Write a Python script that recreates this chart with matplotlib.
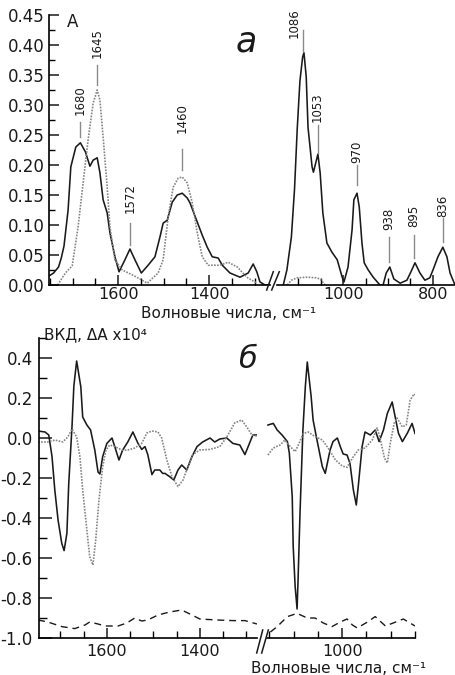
import numpy as np
import matplotlib
matplotlib.use("Agg")
import matplotlib.pyplot as plt
from matplotlib.lines import Line2D
from matplotlib.ticker import FixedLocator, MultipleLocator, FormatStrFormatter

plt.rcParams["font.family"] = ["DejaVu Sans"]

# ---- (а) ИК спектр, левый участок ----
ir_wn_l = [1752, 1742, 1731, 1725, 1719, 1710, 1704, 1693, 1683, 1672, 1662, 1655, 1646, 1640,
           1633, 1624, 1618, 1607, 1598, 1585, 1574, 1563, 1549, 1534, 1519, 1508, 1501, 1492,
           1481, 1470, 1459, 1448, 1442, 1426, 1415, 1404, 1393, 1380, 1371, 1354, 1332, 1314,
           1303, 1295, 1288, 1277, 1266]
ir_a_l = [0.015, 0.02, 0.03, 0.045, 0.065, 0.125, 0.197, 0.23, 0.237, 0.222, 0.198, 0.208, 0.212,
          0.187, 0.142, 0.12, 0.087, 0.047, 0.022, 0.042, 0.06, 0.042, 0.02, 0.033, 0.047, 0.08,
          0.103, 0.108, 0.138, 0.15, 0.153, 0.145, 0.137, 0.105, 0.083, 0.063, 0.047, 0.045,
          0.033, 0.02, 0.013, 0.02, 0.035, 0.022, 0.005, 0.0, 0.0]
ir2_wn_l = [1733, 1716, 1701, 1688, 1677, 1666, 1655, 1646, 1640, 1633, 1624, 1618, 1607, 1591,
            1569, 1547, 1536, 1512, 1501, 1490, 1479, 1468, 1459, 1448, 1437, 1426, 1415, 1402,
            1376, 1358, 1338, 1317, 1295]
ir2_a_l = [0.0, 0.02, 0.032, 0.097, 0.17, 0.242, 0.303, 0.325, 0.308, 0.247, 0.163, 0.097, 0.042,
           0.025, 0.017, 0.008, 0.003, 0.02, 0.042, 0.113, 0.163, 0.178, 0.18, 0.17, 0.137, 0.087,
           0.047, 0.033, 0.033, 0.038, 0.03, 0.013, 0.003]

# ---- (а) ИК спектр, правый участок ----
ir_wn_r = [1133, 1125, 1115, 1108, 1102, 1096, 1090, 1087, 1082, 1078, 1069, 1066, 1056, 1051,
           1045, 1036, 1025, 1013, 1002, 998, 989, 980, 976, 969, 964, 958, 953, 944, 933, 918,
           911, 904, 896, 887, 873, 858, 849, 840, 829, 818, 807, 800, 789, 778, 769, 762, 751]
ir_a_r = [0.0, 0.025, 0.08, 0.16, 0.26, 0.34, 0.38, 0.387, 0.347, 0.263, 0.197, 0.188, 0.218,
          0.187, 0.12, 0.07, 0.055, 0.042, 0.013, 0.005, 0.03, 0.092, 0.142, 0.153, 0.13, 0.07,
          0.037, 0.025, 0.013, 0.0, 0.0, 0.02, 0.03, 0.01, 0.003, 0.008, 0.022, 0.037, 0.02,
          0.008, 0.012, 0.025, 0.047, 0.063, 0.047, 0.02, 0.0]
ir2_wn_r = [1124, 1115, 1102, 1080, 1060, 1051, 1040]
ir2_a_r = [0.0, 0.008, 0.012, 0.013, 0.012, 0.01, 0.0]

# подписи пиков: положение, низ и верх штриха, низ текста
peaks_l = ["1680", "1645", "1572", "1460"]
peaks_l_wn = [1683, 1646, 1574, 1459]
peaks_l_lo = [0.247, 0.333, 0.067, 0.192]
peaks_l_hi = [0.272, 0.367, 0.103, 0.227]
peaks_l_txt = [0.283, 0.378, 0.12, 0.253]
peaks_r = ["1086", "1053", "970", "938", "895", "836"]
peaks_r_wn = [1089, 1056, 969, 898, 842, 778]
peaks_r_txt_wn = [1108, 1058, 970, 898, 842, 778]
peaks_r_lo = [0.39, 0.22, 0.167, 0.038, 0.045, 0.072]
peaks_r_hi = [0.425, 0.267, 0.2, 0.08, 0.083, 0.112]
peaks_r_txt = [0.412, 0.272, 0.203, 0.092, 0.097, 0.113]

# ---- (б) ВКД спектр, левый участок ----
cd_wn_l = [1748, 1733, 1725, 1718, 1712, 1705, 1697, 1692, 1686, 1682, 1675, 1671, 1665, 1656,
           1652, 1643, 1635, 1626, 1619, 1615, 1609, 1600, 1589, 1583, 1574, 1566, 1555, 1544,
           1533, 1525, 1518, 1512, 1503, 1497, 1486, 1480, 1475, 1465, 1456, 1447, 1439, 1428,
           1417, 1406, 1394, 1378, 1368, 1357, 1342, 1329, 1314, 1303, 1292, 1286, 1277]
cd_l = [0.035, 0.03, 0.015, -0.093, -0.26, -0.41, -0.527, -0.563, -0.477, -0.227, 0.057, 0.26,
        0.385, 0.255, 0.105, 0.065, 0.04, -0.06, -0.17, -0.18, -0.093, -0.027, 0.0, -0.043,
        -0.11, -0.06, -0.02, 0.03, -0.027, -0.057, -0.043, -0.083, -0.183, -0.16, -0.16,
        -0.177, -0.177, -0.193, -0.21, -0.16, -0.135, -0.16, -0.093, -0.043, -0.02, 0.0, -0.02,
        -0.005, 0.0, -0.027, -0.035, -0.083, -0.02, 0.015, 0.015]
cd2_wn_l = [1748, 1727, 1712, 1695, 1684, 1675, 1665, 1658, 1652, 1643, 1637, 1630, 1624, 1617,
            1609, 1602, 1594, 1583, 1568, 1555, 1540, 1525, 1514, 1503, 1490, 1482, 1471, 1460,
            1447, 1436, 1426, 1415, 1400, 1378, 1357, 1342, 1325, 1310, 1299, 1288, 1277, 1271]
cd2_l = [-0.02, -0.02, -0.01, -0.02, 0.005, 0.045, 0.005, -0.093, -0.26, -0.46, -0.593, -0.635,
         -0.51, -0.31, -0.143, -0.06, -0.035, -0.043, -0.06, -0.06, -0.05, -0.027, 0.025, 0.035,
         0.03, 0.0, -0.11, -0.193, -0.243, -0.21, -0.143, -0.083, -0.06, -0.057, -0.043, 0.005,
         0.075, 0.09, 0.055, 0.015, 0.01, 0.015]
bl_wn_l = [1748, 1727, 1697, 1669, 1647, 1637, 1619, 1604, 1576, 1557, 1540, 1525, 1512, 1490,
           1465, 1439, 1417, 1400, 1363, 1329, 1303, 1277]
bl_l = [-0.91, -0.92, -0.943, -0.953, -0.935, -0.92, -0.93, -0.94, -0.94, -0.925, -0.9, -0.915,
        -0.91, -0.885, -0.87, -0.86, -0.885, -0.905, -0.91, -0.913, -0.913, -0.93]

# ---- (б) ВКД спектр, правый участок ----
cd_wn_r = [1153, 1142, 1134, 1124, 1113, 1109, 1103, 1101, 1097, 1093, 1091, 1087, 1081, 1076,
           1072, 1064, 1060, 1052, 1041, 1035, 1025, 1019, 1010, 1004, 998, 990, 984, 977, 971,
           967, 959, 953, 942, 932, 924, 915, 907, 897, 891, 884, 876, 866, 856, 850]
cd_r = [0.065, 0.073, 0.04, 0.015, -0.018, -0.075, -0.293, -0.543, -0.743, -0.855, -0.71, -0.377,
        0.04, 0.257, 0.38, 0.207, 0.09, -0.01, -0.143, -0.177, -0.06, -0.018, 0.0, -0.043, -0.08,
        -0.085, -0.127, -0.26, -0.335, -0.243, -0.043, 0.03, 0.015, 0.04, -0.018, 0.04, 0.123,
        0.18, 0.107, 0.023, -0.018, 0.023, 0.073, 0.023]
cd2_wn_r = [1153, 1142, 1128, 1118, 1107, 1097, 1089, 1080, 1070, 1056, 1041, 1029, 1014, 1000,
            990, 977, 967, 953, 938, 928, 922, 913, 907, 901, 893, 887, 876, 868, 860, 852, 850]
cd2_r = [-0.085, -0.05, -0.035, -0.01, -0.043, -0.068, -0.027, 0.023, 0.03, 0.007, -0.01, -0.05,
         -0.11, -0.14, -0.147, -0.093, -0.06, -0.05, -0.01, 0.05, 0.0, -0.1, -0.125, -0.027,
         0.073, 0.1, 0.055, 0.065, 0.19, 0.22, 0.215]
bl_wn_r = [1148, 1134, 1113, 1093, 1072, 1056, 1039, 1021, 1004, 990, 979, 969, 948, 932, 911,
           895, 874, 850]
bl_r = [-0.97, -0.943, -0.893, -0.877, -0.9, -0.9, -0.925, -0.943, -0.92, -0.905, -0.935, -0.95,
        -0.92, -0.893, -0.94, -0.925, -0.905, -0.94]

yt_a = [0.0, 0.05, 0.10, 0.15, 0.20, 0.25, 0.30, 0.35, 0.40, 0.45]
yt_b = [-1.0, -0.8, -0.6, -0.4, -0.2, 0.0, 0.2, 0.4]
xlabel = "Волновые числа, см⁻¹"

W, H = 455, 675
fig = plt.figure(figsize=(W / 100, H / 100), dpi=100)


def rect(x0, y0, x1, y1):
    # пиксели -> доли фигуры
    return [x0 / W, 1 - y1 / H, (x1 - x0) / W, (y1 - y0) / H]


def fp(x, y):
    return x / W, 1 - y / H


black = "#1a1a1a"
grey = "#858585"
dotted = (0, (1, 0.8))


def style(ax, left=True, xpad=1.5, ypad=3, ymaj=7, ymin=4.5):
    for s in ["top", "right"]:
        ax.spines[s].set_visible(False)
    ax.spines["bottom"].set_linewidth(1.2)
    ax.spines["left"].set_linewidth(1.2)
    ax.patch.set_alpha(0)
    ax.tick_params(axis="x", which="major", direction="in", length=7, width=1.1,
                   labelsize=11.5, pad=xpad, colors=black)
    ax.tick_params(axis="x", which="minor", direction="in", length=5, width=1.0)
    ax.tick_params(axis="y", which="major", direction="in", length=ymaj, width=1.1,
                   labelsize=12, pad=ypad, colors=black)
    ax.tick_params(axis="y", which="minor", direction="in", length=ymin, width=1.0)
    if not left:
        ax.spines["left"].set_visible(False)
        ax.tick_params(axis="y", which="both", left=False, labelleft=False)


# ---------- панель а ----------
a1 = fig.add_axes(rect(49, 15, 270, 285))
a2 = fig.add_axes(rect(277, 15, 455, 285))
for ax in (a1, a2):
    ax.set_ylim(0, 0.45)
a1.set_xlim(1752, 1266)
a2.set_xlim(1147, 751)

a1.plot(ir_wn_l, ir_a_l, color=black, lw=1.15)
a1.plot(ir2_wn_l, ir2_a_l, color=grey, lw=1.2, ls=dotted)
a2.plot(ir_wn_r, ir_a_r, color=black, lw=1.15)
a2.plot(ir2_wn_r, ir2_a_r, color=grey, lw=1.2, ls=dotted)

for t, x, lo, hi, ty in zip(peaks_l, peaks_l_wn, peaks_l_lo, peaks_l_hi, peaks_l_txt):
    a1.plot([x, x], [lo, hi], color="#8a8a8a", lw=1.0)
    a1.text(x, ty, t, rotation=90, ha="center", va="bottom", fontsize=8.5, color=black)
for t, x, tx, lo, hi, ty in zip(peaks_r, peaks_r_wn, peaks_r_txt_wn, peaks_r_lo, peaks_r_hi, peaks_r_txt):
    a2.plot([x, x], [lo, hi], color="#8a8a8a", lw=1.0)
    a2.text(tx, ty, t, rotation=90, ha="center", va="bottom", fontsize=8.5, color=black)

style(a1)
a1.yaxis.set_major_locator(FixedLocator(yt_a))
a1.yaxis.set_minor_locator(MultipleLocator(0.025))
a1.yaxis.set_major_formatter(FormatStrFormatter("%.2f"))
a1.xaxis.set_major_locator(FixedLocator([1600, 1400]))
a1.xaxis.set_minor_locator(MultipleLocator(50))
style(a2, left=False)
a2.xaxis.set_major_locator(FixedLocator([1000, 800]))
a2.xaxis.set_minor_locator(MultipleLocator(50))

fig.text(*fp(67, 22), "A", fontsize=12, va="center", ha="left", color=black)
fig.text(*fp(246, 41), "а", fontsize=25, style="italic", ha="center", va="center", color=black)
fig.text(*fp(229, 318), xlabel, fontsize=11, ha="center", va="baseline", color=black)

# ---------- панель б ----------
b1 = fig.add_axes(rect(39, 338, 257, 638))
b2 = fig.add_axes(rect(267, 338, 415, 638))
for ax in (b1, b2):
    ax.set_ylim(-1.0, 0.5)
b1.set_xlim(1746, 1277)
b2.set_xlim(1155, 850)

b1.plot(cd_wn_l, cd_l, color=black, lw=1.15)
b1.plot(cd2_wn_l, cd2_l, color=grey, lw=1.2, ls=dotted)
b1.plot(bl_wn_l, bl_l, color=black, lw=1.0, ls=(0, (5, 3.5)))
b2.plot(cd_wn_r, cd_r, color=black, lw=1.15)
b2.plot(cd2_wn_r, cd2_r, color=grey, lw=1.2, ls=dotted)
b2.plot(bl_wn_r, bl_r, color=black, lw=1.0, ls=(0, (5, 3.5)))

style(b1, xpad=4.5, ypad=4.5, ymaj=9, ymin=5.5)
b1.yaxis.set_major_locator(FixedLocator(yt_b))
b1.yaxis.set_minor_locator(MultipleLocator(0.1))
b1.yaxis.set_major_formatter(FormatStrFormatter("%.1f"))
b1.xaxis.set_major_locator(FixedLocator([1600, 1400]))
b1.xaxis.set_minor_locator(MultipleLocator(50))
style(b2, left=False, xpad=4.5)
b2.xaxis.set_major_locator(FixedLocator([1000]))
b2.xaxis.set_minor_locator(MultipleLocator(50))

fig.text(*fp(44, 335), "ВКД, ΔA x10⁴", fontsize=11, ha="left", va="center", color=black)
fig.text(*fp(247, 360), "б", fontsize=22, style="italic", ha="center", va="center", color=black)
fig.text(*fp(339, 673), xlabel, fontsize=11, ha="center", va="baseline", color=black)

# значки разрыва оси
for (x0, y0, x1, y1) in [(266.7, 290, 273.3, 271.7), (271.7, 290, 279.3, 271.7),
                         (256.7, 653, 262.7, 630), (261.7, 653, 268.3, 630)]:
    p0, p1 = fp(x0, y0), fp(x1, y1)
    fig.add_artist(Line2D([p0[0], p1[0]], [p0[1], p1[1]], color=black, lw=1.1,
                          transform=fig.transFigure))

fig.savefig("out.png", dpi=100, facecolor="white")
